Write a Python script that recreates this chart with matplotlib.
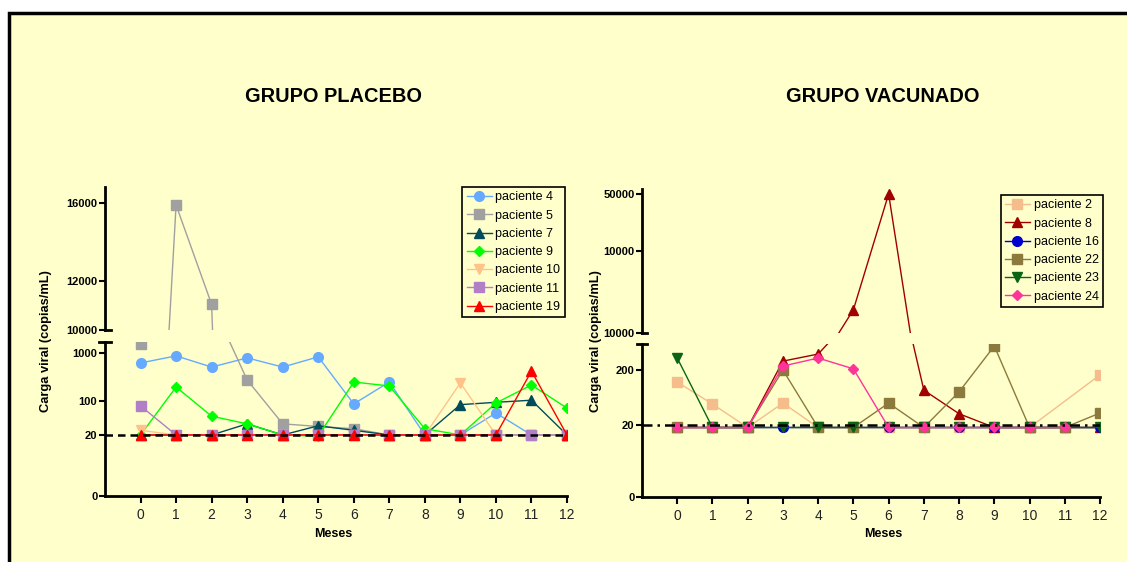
import numpy as np
import matplotlib
matplotlib.use('Agg')
import matplotlib.pyplot as plt
from matplotlib.patches import Rectangle

plt.rcParams['font.family'] = ['Liberation Sans', 'DejaVu Sans']

meses = list(range(13))

# GRUPO PLACEBO
placebo_nomes = ['paciente 4', 'paciente 5', 'paciente 7', 'paciente 9',
                 'paciente 10', 'paciente 11', 'paciente 19']
p4 = [620, 870, 510, 790, 510, 830, 88, 250, 20, 20, 57, 20, 20]
p5 = [1520, 15900, 11000, 276, 34, 30, 27, 20, 20, 20, 20, 20, 20]
p7 = [20, 20, 20, 34, 20, 31, 25, 20, 20, 85, 95, 105, 20]
p9 = [20, 197, 49, 34, 20, 19, 250, 207, 27, 20, 92, 217, 72]
p10 = [25, 20, 20, 20, 20, 20, 20, 20, 20, 240, 20, 20, 20]
p11 = [80, 20, 20, 20, 20, 20, 20, 20, 20, 20, 20, 20, 20]
p19 = [20, 20, 20, 20, 20, 20, 20, 20, 20, 20, 20, 420, 20]
placebo_valores = [p4, p5, p7, p9, p10, p11, p19]
placebo_meses = [meses] * 7
placebo_cores = ['#66AAFF', '#A0A0A0', '#004C5A', '#00FF00', '#FFC38A', '#B07FC8', '#FF0000']
placebo_marcas = ['o', 's', '^', 'D', 'v', 's', '^']

# GRUPO VACUNADO
vacunado_nomes = ['paciente 2', 'paciente 8', 'paciente 16', 'paciente 22',
                  'paciente 23', 'paciente 24']
meses_v2 = [0, 1, 2, 3, 4, 5, 6, 7, 8, 9, 10, 12]
v2 = [121, 48, 18, 50, 18, 18, 18, 18, 18, 18, 18, 163]
v8 = [18, 18, 18, 290, 390, 1900, 50000, 86, 32, 18, 18, 18, 18]
v16 = [18, 18, 18, 18, 18, 18, 18, 18, 18, 18, 18, 18, 18]
v22 = [18, 18, 18, 200, 18, 18, 50, 18, 80, 545, 18, 18, 33]
v23 = [330, 18, 18, 18, 18, 18, 18, 18, 18, 18, 18, 18, 18]
meses_v24 = list(range(12))
v24 = [18, 18, 18, 236, 330, 210, 18, 18, 18, 18, 18, 18]
vacunado_valores = [v2, v8, v16, v22, v23, v24]
vacunado_meses = [meses_v2, meses, meses, meses, meses, meses_v24]
vacunado_cores = ['#F5BD8B', '#A00000', '#0000CC', '#8C7A3C', '#0B6414', '#FF3399']
vacunado_marcas = ['s', '^', 'o', 's', 'v', 'D']

W, H = 1127, 562
fig = plt.figure(figsize=(W / 100, H / 100), dpi=100)
fig.patch.set_facecolor('white')
fig.patches.append(Rectangle((9 / W, -0.1), 1.2, 1 - 13 / H + 0.1, transform=fig.transFigure,
                             facecolor='#FFFFCC', edgecolor='black', linewidth=2.5, zorder=-5))


def fx(px):
    return px / W


def fy(py):
    return 1 - py / H


def painel(x0, x1, up_top, up_bot, lo_top, lo_bot, ylim_up, ylim_lo,
           ticks_up, labels_up, ticks_lo, labels_lo, nomes, mlist, valores,
           cores, marcas, titulo, tcx, leg_anchor, estilo_linha):
    ax_up = fig.add_axes([fx(x0), fy(up_bot), fx(x1 - x0), fy(up_top) - fy(up_bot)])
    ax_lo = fig.add_axes([fx(x0), fy(lo_bot), fx(x1 - x0), fy(lo_top) - fy(lo_bot)])
    for ax in (ax_up, ax_lo):
        ax.set_facecolor('none')
        ax.set_yscale('log')
        ax.set_xlim(-1, 12)
        for s in ('top', 'right'):
            ax.spines[s].set_visible(False)
        ax.spines['left'].set_linewidth(2)
        ax.tick_params(axis='y', direction='out', length=4, width=1.5, labelsize=8, pad=1.5)
        for m, v, c, mk, n in zip(mlist, valores, cores, marcas, nomes):
            ms = 5.5 if mk == 'D' else 7
            ax.plot(m, v, color=c, marker=mk, markersize=ms, linewidth=1,
                    markeredgecolor=c, label=n)
    ax_up.spines['bottom'].set_visible(False)
    ax_up.tick_params(axis='x', bottom=False, labelbottom=False)
    ax_up.set_ylim(*ylim_up)
    ax_up.set_yticks(ticks_up)
    ax_up.set_yticklabels(labels_up, fontweight='bold')
    ax_up.minorticks_off()
    ax_lo.set_ylim(*ylim_lo)
    ax_lo.set_yticks(ticks_lo)
    ax_lo.set_yticklabels(labels_lo, fontweight='bold')
    ax_lo.minorticks_off()
    ax_lo.spines['bottom'].set_linewidth(2)
    ax_lo.set_xticks(meses)
    ax_lo.tick_params(axis='x', direction='out', length=5, width=1.5, labelsize=10,
                      labelcolor='#222222')
    ax_lo.axhline(20, color='black', linewidth=1.8, linestyle=estilo_linha, zorder=5)
    # break caps
    ax_up.plot([0, 0.012], [0, 0], transform=ax_up.transAxes, color='black', lw=2, clip_on=False)
    ax_lo.plot([-0.012, 0.012], [1, 1], transform=ax_lo.transAxes, color='black', lw=2, clip_on=False)
    leg = ax_up.legend(loc='upper right', bbox_to_anchor=leg_anchor, borderaxespad=0,
                       fontsize=9, labelspacing=0.5, handlelength=2.0, handletextpad=0.3,
                       borderpad=0.35, fancybox=False, edgecolor='black',
                       facecolor='#FFFFCC', framealpha=1)
    leg.get_frame().set_linewidth(1.2)
    fig.text(fx(tcx), fy(97), titulo, ha='center', va='center', fontsize=14.4, fontweight='bold')
    fig.text(fx(tcx), fy(534), 'Meses', ha='center', va='center', fontsize=9, fontweight='bold')
    return ax_up, ax_lo


painel(105, 567, 187, 330, 342, 496, (10000, 17000), (1.09, 1685),
       [10000, 12000, 16000], ['10000', '12000', '16000'],
       [1.09, 20, 100, 1000], ['0', '20', '100', '1000'],
       placebo_nomes, placebo_meses, placebo_valores, placebo_cores, placebo_marcas,
       'GRUPO PLACEBO', 333, (0.995, 1.0), (0, (3, 2)))

painel(642, 1100, 189, 333, 344, 497, (986, 57600), (0.98, 594),
       [986, 10000, 50000], ['10000', '10000', '50000'],
       [0.98, 20, 200], ['0', '20', '200'],
       vacunado_nomes, vacunado_meses, vacunado_valores, vacunado_cores, vacunado_marcas,
       'GRUPO VACUNADO', 883, (1.0066, 0.958), (0, (4, 2, 1, 2)))

fig.text(fx(46), fy(341), 'Carga viral (copias/mL)', rotation=90, ha='center', va='center',
         fontsize=9.3, fontweight='bold')
fig.text(fx(596), fy(341), 'Carga viral (copias/mL)', rotation=90, ha='center', va='center',
         fontsize=9.3, fontweight='bold')

fig.savefig('out.png', dpi=100, facecolor=fig.get_facecolor())
